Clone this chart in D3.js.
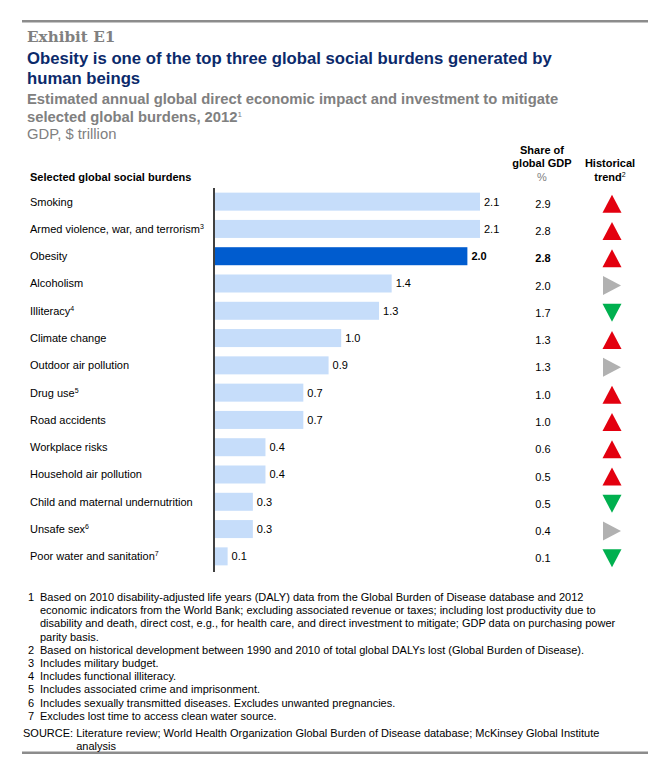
<!DOCTYPE html>
<html>
<head>
<meta charset="utf-8">
<script src="https://cdn.jsdelivr.net/npm/d3@7"></script>
<style>
  body { margin: 0; background: #fff; }
  svg text { font-family: "Liberation Sans", Arial, sans-serif; }
</style>
</head>
<body>
<svg id="chart" width="664" height="782"></svg>
<script>
// data read from the exhibit
const burdens = ['Smoking', 'Armed violence, war, and terrorism', 'Obesity', 'Alcoholism', 'Illiteracy',
  'Climate change', 'Outdoor air pollution', 'Drug use', 'Road accidents', 'Workplace risks',
  'Household air pollution', 'Child and maternal undernutrition', 'Unsafe sex', 'Poor water and sanitation'];
const notes = ['', '3', '', '', '4', '', '', '5', '', '', '', '', '6', '7'];
const impact = [2.1, 2.1, 2.0, 1.4, 1.3, 1.0, 0.9, 0.7, 0.7, 0.4, 0.4, 0.3, 0.3, 0.1];
const shareGdp = ['2.9', '2.8', '2.8', '2.0', '1.7', '1.3', '1.3', '1.0', '1.0', '0.6', '0.5', '0.5', '0.4', '0.1'];
const trend = ['up', 'up', 'up', 'flat', 'down', 'up', 'flat', 'up', 'up', 'up', 'up', 'down', 'flat', 'down'];
const footnotes = [
  ['1', 'Based on 2010 disability-adjusted life years (DALY) data from the Global Burden of Disease database and 2012'],
  ['', 'economic indicators from the World Bank; excluding associated revenue or taxes; including lost productivity due to'],
  ['', 'disability and death, direct cost, e.g., for health care, and direct investment to mitigate; GDP data on purchasing power'],
  ['', 'parity basis.'],
  ['2', 'Based on historical development between 1990 and 2010 of total global DALYs lost (Global Burden of Disease).'],
  ['3', 'Includes military budget.'],
  ['4', 'Includes functional illiteracy.'],
  ['5', 'Includes associated crime and imprisonment.'],
  ['6', 'Includes sexually transmitted diseases. Excludes unwanted pregnancies.'],
  ['7', 'Excludes lost time to access clean water source.']
];

const svg = d3.select('#chart');
const navy = '#0b2a6b', grey = '#808080';

// rules
svg.append('rect').attr('x', 22).attr('y', 20).attr('width', 626).attr('height', 2.5).attr('fill', '#8c8c8c');
svg.append('rect').attr('x', 22).attr('y', 751.5).attr('width', 626).attr('height', 2.5).attr('fill', '#8c8c8c');

// header
svg.append('text').attr('x', 27).attr('y', 42).text('Exhibit E1')
  .style('font-family', '"DejaVu Serif", "Liberation Serif", serif').style('font-weight', 'bold')
  .style('font-size', '15.2px').attr('fill', grey);
const title = svg.append('text').style('font-weight', 'bold').style('font-size', '16.7px').attr('fill', navy);
title.append('tspan').attr('x', 27).attr('y', 64).text('Obesity is one of the top three global social burdens generated by');
title.append('tspan').attr('x', 27).attr('y', 84).text('human beings');
const sub = svg.append('text').style('font-weight', 'bold').style('font-size', '14.8px').attr('fill', grey);
sub.append('tspan').attr('x', 27).attr('y', 104).text('Estimated annual global direct economic impact and investment to mitigate');
sub.append('tspan').attr('x', 27).attr('y', 122).text('selected global burdens, 2012');
sub.append('tspan').attr('dy', -5).style('font-size', '8px').style('font-weight', 'normal').text('1');
svg.append('text').attr('x', 27).attr('y', 139).text('GDP, $ trillion').style('font-size', '14.8px').attr('fill', grey);

// column headers
const hdr = svg.append('g').style('font-size', '11px').style('font-weight', 'bold');
hdr.append('text').attr('x', 30).attr('y', 181).text('Selected global social burdens');
hdr.append('text').attr('x', 542).attr('y', 154).attr('text-anchor', 'middle').text('Share of');
hdr.append('text').attr('x', 542).attr('y', 167).attr('text-anchor', 'middle').text('global GDP');
hdr.append('text').attr('x', 542).attr('y', 181).attr('text-anchor', 'middle').attr('fill', grey)
  .style('font-weight', 'normal').text('%');
hdr.append('text').attr('x', 610).attr('y', 167).attr('text-anchor', 'middle').text('Historical');
const tr = hdr.append('text').attr('x', 610).attr('y', 181).attr('text-anchor', 'middle');
tr.append('tspan').text('trend');
tr.append('tspan').attr('dy', -4).style('font-size', '7px').style('font-weight', 'normal').text('2');

// scales
const y = d3.scaleBand().domain(burdens).range([188, 570]).paddingInner(0.34).paddingOuter(0.17);
const x = d3.scaleLinear().domain([0, 2.1]).range([215, 480]);
const rowY = d => y(d) + y.bandwidth() / 2;

const rows = svg.append('g').selectAll('g').data(burdens).join('g')
  .attr('transform', d => `translate(0,${rowY(d)})`)
  .style('font-size', '11px');

rows.append('rect')
  .attr('x', x(0)).attr('y', -y.bandwidth() / 2)
  .attr('width', (d, i) => x(impact[i]) - x(0)).attr('height', y.bandwidth())
  .attr('fill', d => d === 'Obesity' ? '#005ccf' : '#c6ddfa');

const lab = rows.append('text').attr('x', 30).attr('dy', '0.35em');
lab.append('tspan').text(d => d);
lab.append('tspan').attr('dy', -4).style('font-size', '7px').text((d, i) => notes[i]);

rows.append('text').attr('x', (d, i) => x(impact[i]) + 4).attr('dy', '0.35em')
  .style('font-weight', d => d === 'Obesity' ? 'bold' : 'normal')
  .text((d, i) => impact[i].toFixed(1));

rows.append('text').attr('x', 543).attr('dy', '0.55em').attr('text-anchor', 'middle')
  .style('font-weight', d => d === 'Obesity' ? 'bold' : 'normal')
  .text((d, i) => shareGdp[i]);

const tri = { up: 'M-9.5,9 L0,-9 L9.5,9 Z', down: 'M-9.5,-9 L0,9 L9.5,-9 Z', flat: 'M-9,-9.5 L9,0 L-9,9.5 Z' };
const triColor = { up: '#e3000f', down: '#00b04f', flat: '#b1b1b1' };
rows.append('path').attr('transform', 'translate(612,2)')
  .attr('d', (d, i) => tri[trend[i]]).attr('fill', (d, i) => triColor[trend[i]]);

// axis line
svg.append('line').attr('x1', 214).attr('x2', 214).attr('y1', 188).attr('y2', 572)
  .attr('stroke', '#000').attr('stroke-width', 1.5);

// footnotes
const fn = svg.append('g').style('font-size', '11px');
fn.selectAll('g').data(footnotes).join('g')
  .attr('transform', (d, i) => `translate(0,${601 + i * 13.2})`)
  .each(function(d) {
    const g = d3.select(this);
    g.append('text').attr('x', 28).text(d[0]);
    g.append('text').attr('x', 40).text(d[1]);
  });
const src = fn.append('text').attr('x', 23).attr('y', 737);
const srcHead = src.append('tspan').text('SOURCE: ');
src.append('tspan').text('Literature review; World Health Organization Global Burden of Disease database; McKinsey Global Institute');
fn.append('text').attr('x', 23 + srcHead.node().getComputedTextLength()).attr('y', 750).text('analysis');
</script>
</body>
</html>
